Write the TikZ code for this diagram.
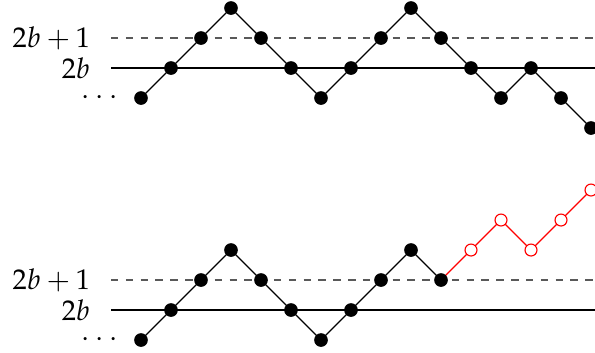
\documentclass[tikz,border=0pt]{standalone}
\usepackage{mathpazo}
\usetikzlibrary{positioning}
\tikzset{
  level/.style={thin},
  levelup/.style={thin,black!65,dashed,dash pattern=on 2.6pt off 2.6pt},
  walk/.style={thin,black},
  bridge/.style={thin,red},
  site/.style={circle,fill=black,inner sep=0pt,minimum size=4.8pt},
  opensite/.style={circle,draw=red,fill=white,inner sep=0pt,minimum size=4.2pt,thin},
  lab/.style={anchor=east,inner sep=0pt}
}
\begin{document}
\begin{tikzpicture}[x=0.37cm,y=0.37cm]
  \useasboundingbox (-4.7,-9.467) rectangle (15.133,2.267);
  % upper walk
  \draw[level] (-1,0) -- (15.133,0);
  \draw[levelup] (-1,1) -- (15.133,1);
  \node[lab] (u2b) at (-1.68,0) {$2b$};
  \node[lab] (u2b1) at (-1.68,1) {$2b+1$};
  \node[lab] (udots) at (-0.75,-1) {$\cdots$};
  \foreach \i/\h in {0/-1,1/0,2/1,3/2,4/1,5/0,6/-1,7/0,8/1,9/2,10/1,11/0,12/-1,13/0,14/-1,15/-2}
    \coordinate (u\i) at (\i,\h);
  \draw[walk] (u0) \foreach \i in {1,...,15}{ -- (u\i)};
  \foreach \i in {0,...,15}
    \node[site] (us\i) at (u\i) {};
  % lower walk
  \begin{scope}[yshift=-8.067*0.37cm]
    \draw[level] (-1,0) -- (15.133,0);
    \draw[levelup] (-1,1) -- (15.133,1);
    \node[lab] (l2b) at (-1.68,0) {$2b$};
    \node[lab] (l2b1) at (-1.68,1) {$2b+1$};
    \node[lab] (ldots) at (-0.75,-1) {$\cdots$};
    \foreach \i/\h in {0/-1,1/0,2/1,3/2,4/1,5/0,6/-1,7/0,8/1,9/2,10/1,11/2,12/3,13/2,14/3,15/4}
      \coordinate (l\i) at (\i,\h);
    \draw[walk] (l0) \foreach \i in {1,...,10}{ -- (l\i)};
    \draw[bridge] (l10) \foreach \i in {11,...,15}{ -- (l\i)};
    \foreach \i in {0,...,10}
      \node[site] (ls\i) at (l\i) {};
    \foreach \i in {11,...,15}
      \node[opensite] (ls\i) at (l\i) {};
  \end{scope}
\end{tikzpicture}
\end{document}
